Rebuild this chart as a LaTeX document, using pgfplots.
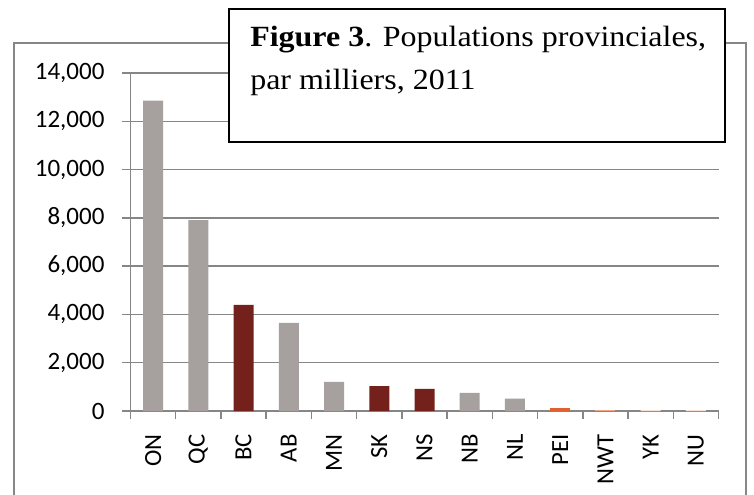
\documentclass[border=0pt]{standalone}
\usepackage{pgfplots}
\pgfplotsset{compat=1.18}
\usepackage{fontspec}
\setmainfont{Carlito}
\newfontfamily\titlefont{Liberation Serif}

\definecolor{linegray}{RGB}{134,134,134}
\definecolor{bargray}{RGB}{166,161,159}
\definecolor{barred}{RGB}{115,33,26}
\definecolor{barorange}{RGB}{224,96,48}
\definecolor{barlight}{RGB}{240,165,135}
\definecolor{barpale}{RGB}{250,225,215}

\begin{document}
\begin{tikzpicture}[x=0.75pt,y=-0.75pt]
% chart frame, open at the bottom
\draw[linegray, line width=1.1pt] (14,520) -- (14,43) -- (746,43) -- (746,520);

\begin{axis}[
  at={(97.875pt,-308.25pt)}, anchor=south west,
  scale only axis, width=441pt, height=253.5pt,
  xmin=-0.5, xmax=12.5, ymin=0, ymax=14000,
  axis x line*=bottom, axis y line*=left,
  axis line style={linegray, line width=1.1pt, -},
  tick style={linegray, line width=1.1pt},
  tick align=outside, major tick length=6pt,
  xtick={-0.5,0.5,1.5,2.5,3.5,4.5,5.5,6.5,7.5,8.5,9.5,10.5,11.5,12.5},
  x tick label as interval,
  xticklabels={ON,QC,BC,AB,MN,SK,NS,NB,NL,PEI,NWT,YK,NU},
  xticklabel style={rotate=90, anchor=east, font=\fontsize{18.5}{20}\selectfont, black},
  xticklabel shift=8pt,
  ytick={0,2000,4000,6000,8000,10000,12000,14000},
  scaled y ticks=false,
  yticklabel style={font=\fontsize{18.75}{20}\selectfont, black},
  yticklabel shift=10pt,
  /pgf/number format/.cd, fixed, precision=0, 1000 sep={,}, assume math mode=true,
  /pgfplots/.cd,
  ymajorgrids, major grid style={linegray, line width=1.1pt},
]
\addplot[ybar, bar width=15pt, bar shift=0pt, fill=bargray, draw=none]
  coordinates {(0,12851) (1,7903) (3,3645) (4,1208) (7,751) (8,514)};
\addplot[ybar, bar width=15pt, bar shift=0pt, fill=barred, draw=none]
  coordinates {(2,4400) (5,1033) (6,921)};
\addplot[ybar, bar width=15pt, bar shift=0pt, fill=barorange, draw=none]
  coordinates {(9,140)};
\addplot[ybar, bar width=15pt, bar shift=0pt, fill=barlight, draw=none]
  coordinates {(10,41)};
\addplot[ybar, bar width=15pt, bar shift=0pt, fill=barpale, draw=none]
  coordinates {(11,34) (12,32)};
\end{axis}

% title box
\draw[black, line width=1.5pt, fill=white] (229,9) rectangle (725,142);
\node[anchor=base west, inner sep=0pt, xscale=1.09, font=\titlefont\fontsize{22}{24}\selectfont]
  at (250,47) {\textbf{Figure 3}. Populations provinciales,};
\node[anchor=base west, inner sep=0pt, xscale=1.09, font=\titlefont\fontsize{22}{24}\selectfont]
  at (250,90) {par milliers, 2011};

\pgfresetboundingbox
\path[use as bounding box] (0,0) rectangle (754,495);
\end{tikzpicture}
\end{document}
